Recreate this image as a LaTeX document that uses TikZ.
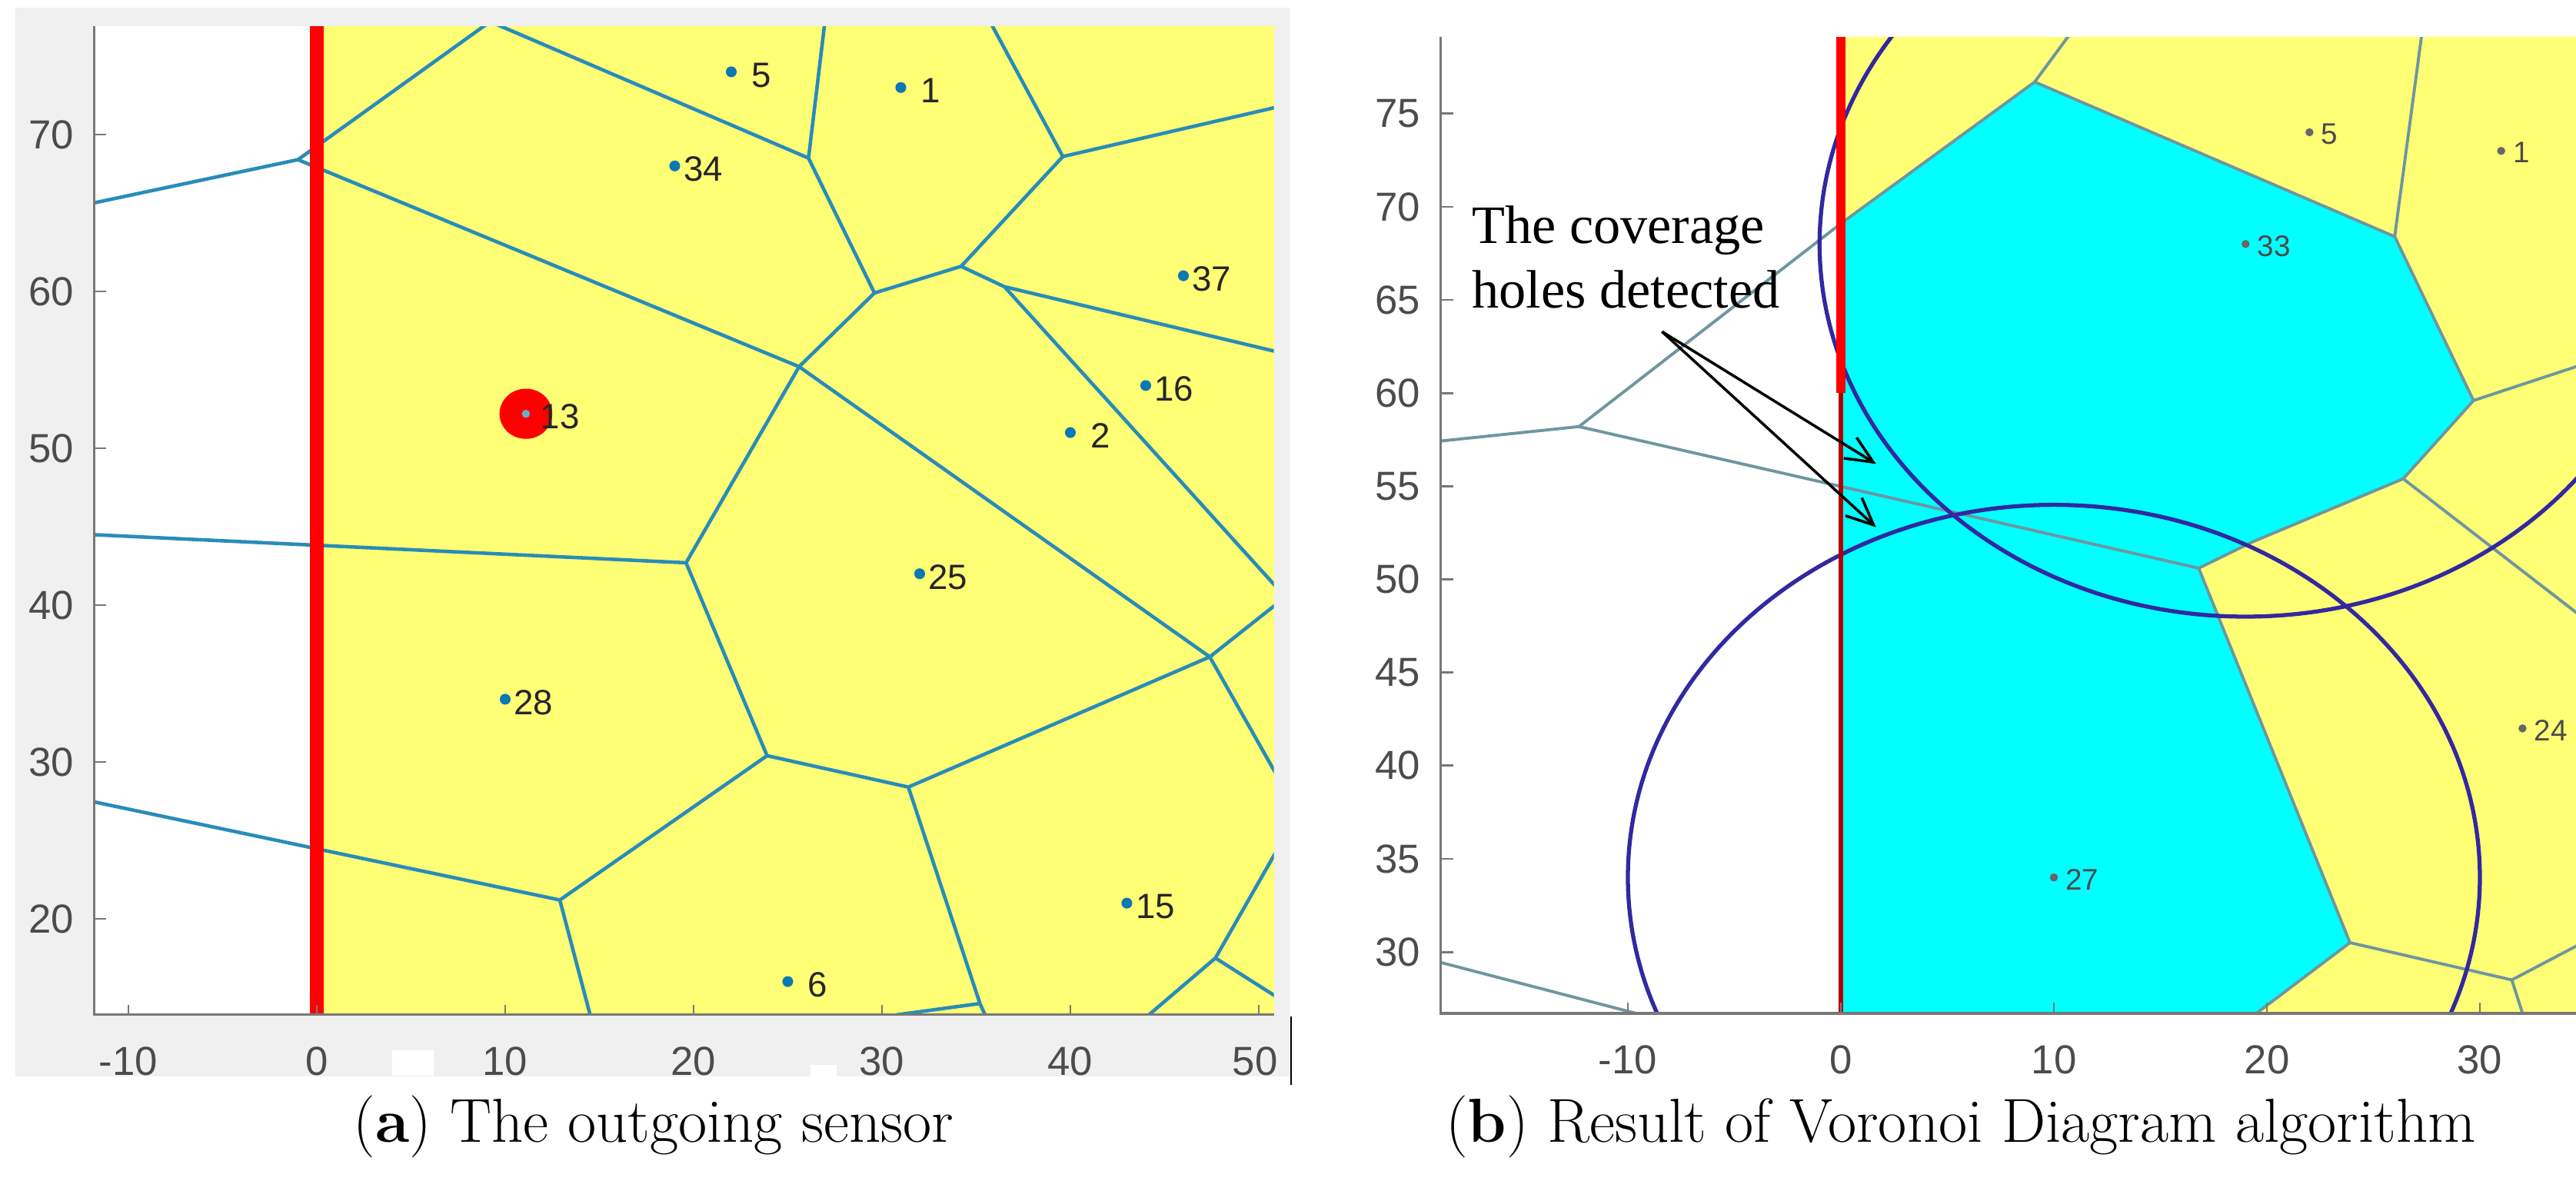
\documentclass[tikz,border=0pt]{standalone}
\usepackage{fontspec}
\newfontfamily\arialf{Liberation Sans}
\newfontfamily\timesf{Liberation Serif}
\usetikzlibrary{arrows.meta}
\definecolor{yel}{RGB}{255,255,118}
\definecolor{cyn}{RGB}{0,255,255}
\definecolor{edgeA}{RGB}{40,140,185}
\definecolor{edgeB}{RGB}{110,150,160}
\definecolor{dotc}{RGB}{10,120,180}
\definecolor{circ}{RGB}{50,40,160}
\definecolor{axg}{RGB}{120,120,120}
\definecolor{bgg}{RGB}{240,240,240}
\tikzset{
 vedgeA/.style={edgeA, line width=1.3pt},
 vedgeB/.style={edgeB, line width=1.1pt},
 sens/.style={circle, fill=dotc, inner sep=0pt, minimum size=4pt},
 slab/.style={font=\arialf\fontsize{13}{13}\selectfont, text=black!85, anchor=west, inner sep=1pt},
 slabB/.style={font=\arialf\fontsize{11}{11}\selectfont, text=black!70, anchor=west, inner sep=1pt},
 tick/.style={font=\arialf\fontsize{15}{15}\selectfont, text=black!70},
 captxt/.style={font=\fontsize{23}{26}\selectfont},
}
\begin{document}
\begin{tikzpicture}
\useasboundingbox (0,0) rectangle (33.5,15.35);
\fill[white] (0,0) rectangle (33.5,15.35);
\fill[bgg] (0.2,1.35) rectangle (16.78,15.25);
% ================= LEFT PANEL =================
\begin{scope}[shift={(4.12,-0.68)}, x=0.245cm, y=0.204cm]
 \fill[white] (-11.8,13.9) rectangle (50.8,76.9);
 \fill[yel] (0,13.9) rectangle (50.8,76.9);
 \begin{scope}
  \clip (-11.8,13.9) rectangle (50.8,76.9);
  \coordinate (V1) at (-1,68.4);
  \coordinate (V2) at (25.6,55.2);
  \coordinate (V3) at (29.6,59.9);
  \coordinate (V4) at (19.6,42.7);
  \coordinate (V5) at (47.4,36.7);
  \coordinate (V6) at (26.1,68.5);
  \coordinate (V7) at (34.2,61.6);
  \coordinate (V8) at (39.6,68.6);
  \coordinate (V9) at (36.5,60.3);
  \coordinate (V10) at (31.4,28.4);
  \coordinate (V11) at (23.9,30.4);
  \coordinate (V12) at (12.9,21.2);
  \coordinate (V13) at (35.2,14.6);
  \coordinate (V14) at (47.7,17.5);
  \coordinate (T1) at (9.2,77.2);
  \draw[vedgeA] (-12,65.6) -- (V1) -- (T1) -- (V6);
  \draw[vedgeA] (V1) -- (V2);
  \draw[vedgeA] (V2) -- (V3) -- (V6) -- (27,77.5);
  \draw[vedgeA] (V3) -- (V7) -- (V8) -- (35.6,77.5);
  \draw[vedgeA] (V8) -- (51.5,71.9);
  \draw[vedgeA] (V7) -- (V9) -- (51.5,56);
  \draw[vedgeA] (V9) -- (51.2,40.8);
  \draw[vedgeA] (V2) -- (V4);
  \draw[vedgeA] (V2) -- (V5) -- (51.5,40.6);
  \draw[vedgeA] (V5) -- (51.5,28);
  \draw[vedgeA] (V5) -- (V10);
  \draw[vedgeA] (-12,44.5) -- (V4) -- (V11) -- (V10);
  \draw[vedgeA] (V11) -- (V12) -- (14.7,13);
  \draw[vedgeA] (-12,27.5) -- (V12);
  \draw[vedgeA] (V10) -- (V13) -- (35.8,13);
  \draw[vedgeA] (V13) -- (30.3,13.8);
  \draw[vedgeA] (51.5,25.5) -- (V14) -- (43.8,13.5);
  \draw[vedgeA] (V14) -- (51.5,14.6);
 \end{scope}
 \draw[red, line width=5pt] (0,13.9) -- (0,76.9);
 % sensor 13 highlight
 \fill[red] (11.1,52.2) ellipse [x radius=1.4, y radius=1.6];
 \node[sens, fill=white!40!dotc, minimum size=3pt] (s13) at (11.1,52.2) {};
 \node[slab] at (11.7,52.0) {13};
 \foreach \n/\x/\y/\dx in {5/22/74/0.9, 1/31/73/0.9, 34/19/68/0.3, 37/46/61/0.3, 16/44/54/0.3, 2/40/51/0.9, 25/32/42/0.3, 28/10/34/0.3, 15/43/21/0.3, 6/25/16/0.9}{
  \node[sens] (L\n) at (\x,\y) {};
  \node[slab] at (\x+\dx,\y-0.2) {\n};
 }
 % axes
 \draw[axg, line width=0.9pt] (-11.8,76.9) -- (-11.8,13.9) -- (50.8,13.9);
 \foreach \y in {20,30,...,70}{
  \draw[axg, line width=0.8pt] (-11.8,\y) -- (-11.2,\y);
  \node[tick, anchor=east] at (-12.4,\y) {\y};
 }
 \foreach \x in {-10,0,...,50}{
  \draw[axg, line width=0.8pt] (\x,13.9) -- (\x,14.5);
 }
 \foreach \x in {-10,0,...,40}{
  \node[tick] at (\x,10.9) {\x};
 }
 \node[tick] at (49.8,10.9) {50};
 \fill[white] (4.0,10.0) rectangle (6.2,11.6);
 \fill[white] (26.2,9.6) rectangle (27.6,10.7);
\end{scope}
\draw[black, line width=0.8pt] (16.79,1.24) -- (16.79,2.13);
\node[captxt] (capA) at (8.5,0.7) {(\textbf{a}) The outgoing sensor};
% ================= RIGHT PANEL =================
\begin{scope}[shift={(23.94,-4.3)}, x=0.277cm, y=0.2423cm]
 \fill[yel] (0,26.7) rectangle (34.6,79.1);
 \fill[cyn] (0,69.1) -- (9.1,76.7) -- (26,68.4) -- (29.7,59.6) -- (26.4,55.4) -- (19.3,52) -- (16.8,50.6) -- (23.9,30.5) -- (19.5,26.7) -- (0,26.7) -- cycle;
 \begin{scope}
  \clip (-18.8,26.7) rectangle (34.6,79.1);
  \draw[vedgeB] (0,69.1) -- (9.1,76.7) -- (26,68.4) -- (29.7,59.6) -- (26.4,55.4) -- (19.3,52) -- (16.8,50.6) -- (23.9,30.5) -- (19.5,26.7);
  \draw[vedgeB] (9.1,76.7) -- (10.9,79.5);
  \draw[vedgeB] (26,68.4) -- (27.3,79.5);
  \draw[vedgeB] (29.7,59.6) -- (35,61.6);
  \draw[vedgeB] (26.4,55.4) -- (35,47.8);
  \draw[vedgeB] (23.9,30.5) -- (31.5,28.5) -- (32.2,26);
  \draw[vedgeB] (31.5,28.5) -- (35,30.6);
  \draw[vedgeB] (-19,57.4) -- (-12.3,58.2) -- (0,69.1);
  \draw[vedgeB] (-12.3,58.2) -- (16.8,50.6);
  \draw[vedgeB] (-19,29.5) -- (-8.6,26.4);
  \draw[circ, line width=1.5pt] (19,68) circle [radius=20];
  \draw[circ, line width=1.5pt] (10,34) circle [radius=20];
  \foreach \n/\x/\y in {5/22/74, 1/31/73, 33/19/68, 27/10/34, 24/32/42}{
   \node[sens, minimum size=3pt, fill=black!60] (R\n) at (\x,\y) {};
   \node[slabB] at (\x+0.4,\y-0.1) {\n};
  }
 \end{scope}
 \draw[red, line width=3.5pt] (0,79.1) -- (0,60);
 \draw[red!70!black, line width=1.6pt] (0,60) -- (0,26.7);
 % annotation
 \node[font=\timesf\fontsize{20}{24}\selectfont, align=left, inner sep=0pt] (ann) at (-10.1,67.3) {The coverage\\holes detected};
 \coordinate (a0) at (-8.4,63.3);
 \coordinate (h1) at (1.65,56.2);
 \coordinate (h2) at (1.65,52.8);
 \draw[black, line width=1pt, -{Straight Barb[length=10pt, width=9pt]}] (a0) -- (h1);
 \draw[black, line width=1pt, -{Straight Barb[length=10pt, width=9pt]}] (a0) -- (h2);
 % axes
 \draw[axg, line width=0.9pt] (-18.8,79.1) -- (-18.8,26.7) -- (34.6,26.7);
 \foreach \y in {30,35,...,75}{
  \draw[axg, line width=0.8pt] (-18.8,\y) -- (-18.2,\y);
  \node[tick, anchor=east] at (-19.3,\y) {\y};
 }
 \foreach \x in {-10,0,...,30}{
  \draw[axg, line width=0.8pt] (\x,26.7) -- (\x,27.3);
  \node[tick] at (\x,24.2) {\x};
 }
\end{scope}
\node[captxt] (capB) at (25.5,0.7) {(\textbf{b}) Result of Voronoi Diagram algorithm};
\end{tikzpicture}
\end{document}
